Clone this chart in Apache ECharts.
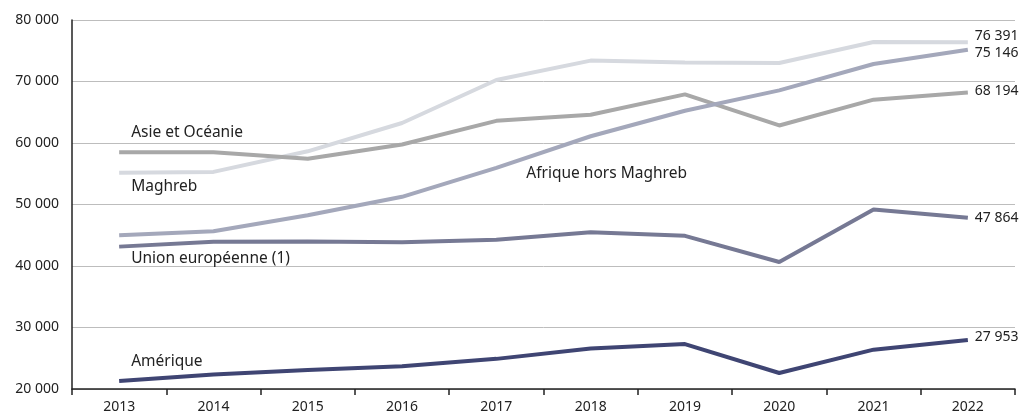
<!DOCTYPE html>
<html>
<head>
<meta charset="utf-8">
<script src="https://cdn.jsdelivr.net/npm/echarts@6/dist/echarts.min.js"></script>
<style>
  html, body { margin: 0; padding: 0; background: #fff; }
  #chart { width: 1022px; height: 414px; }
</style>
</head>
<body>
<div id="chart"></div>
<script>
// années
const years = ["2013", "2014", "2015", "2016", "2017", "2018", "2019", "2020", "2021", "2022"];

// valeurs
const maghreb = [55150, 55300, 58650, 63250, 70250, 73400, 73100, 73000, 76430, 76391];
const afrique = [45000, 45650, 48250, 51250, 55950, 61100, 65250, 68550, 72850, 75146];
const asie = [58500, 58500, 57450, 59750, 63600, 64600, 67900, 62850, 67050, 68194];
const ue = [43150, 43950, 44000, 43850, 44250, 45500, 44900, 40650, 49200, 47864];
const amerique = [21300, 22350, 23100, 23700, 24900, 26600, 27300, 22600, 26400, 27953];

const yTicks = { min: 20000, max: 80000, interval: 10000 };

const FONT = "Noto Sans";

function fmt(v) {
  return String(Math.round(v)).replace(/\B(?=(\d{3})+(?!\d))/g, " ");
}

const chart = echarts.init(document.getElementById("chart"));

// étiquette du nom de série, accrochée à un point de la série
function nameMark(name, idx, values, dx, dy) {
  return {
    symbol: "circle",
    symbolSize: 0,
    silent: true,
    data: [{
      coord: [years[idx], values[idx]],
      label: {
        show: true,
        formatter: name,
        position: [dx, dy],
        align: "left",
        verticalAlign: "middle",
        color: "#222",
        fontSize: 15.5,
        fontFamily: FONT
      }
    }]
  };
}

function lineSeries(name, values, color, endDy, mark) {
  return {
    name: name,
    type: "line",
    data: values,
    showSymbol: false,
    symbol: "none",
    lineStyle: { color: color, width: 4 },
    itemStyle: { color: color },
    endLabel: {
      show: true,
      formatter: (p) => fmt(p.value),
      distance: 7,
      offset: [0, endDy],
      color: "#222",
      fontSize: 14,
      fontFamily: FONT
    },
    markPoint: mark,
    z: 3
  };
}

const option = {
  backgroundColor: "#fff",
  animation: false,
  textStyle: { fontFamily: FONT },
  grid: { left: 72, right: 7, top: 20, bottom: 24 },
  xAxis: {
    type: "category",
    data: years,
    boundaryGap: true,
    axisLine: { show: true, lineStyle: { color: "#222", width: 1.5 } },
    axisTick: { show: true, length: 6, lineStyle: { color: "#222", width: 1.5 } },
    axisLabel: { color: "#222", fontSize: 14, margin: 11, fontFamily: FONT },
    splitLine: { show: false }
  },
  yAxis: {
    type: "value",
    min: yTicks.min,
    max: yTicks.max,
    interval: yTicks.interval,
    axisLine: { show: true, lineStyle: { color: "#222", width: 1.5 } },
    axisTick: { show: false },
    axisLabel: { color: "#222", fontSize: 14, margin: 13, formatter: fmt, fontFamily: FONT },
    splitLine: { show: true, lineStyle: { color: "#bdbdbd", width: 1 } }
  },
  series: [
    lineSeries("Maghreb", maghreb, "#d6d9df", -6, nameMark("Maghreb", 0, maghreb, 12, 14)),
    lineSeries("Asie et Océanie", asie, "#a8a8a8", -2, nameMark("Asie et Océanie", 0, asie, 12, -20)),
    lineSeries("Afrique hors Maghreb", afrique, "#a4a8bb", 3, nameMark("Afrique hors Maghreb", 4, afrique, 30, 6)),
    lineSeries("Union européenne (1)", ue, "#767994", 0, nameMark("Union européenne (1)", 0, ue, 12, 12)),
    lineSeries("Amérique", amerique, "#3f4573", -3, nameMark("Amérique", 0, amerique, 12, -19))
  ]
};

chart.setOption(option);
</script>
</body>
</html>
